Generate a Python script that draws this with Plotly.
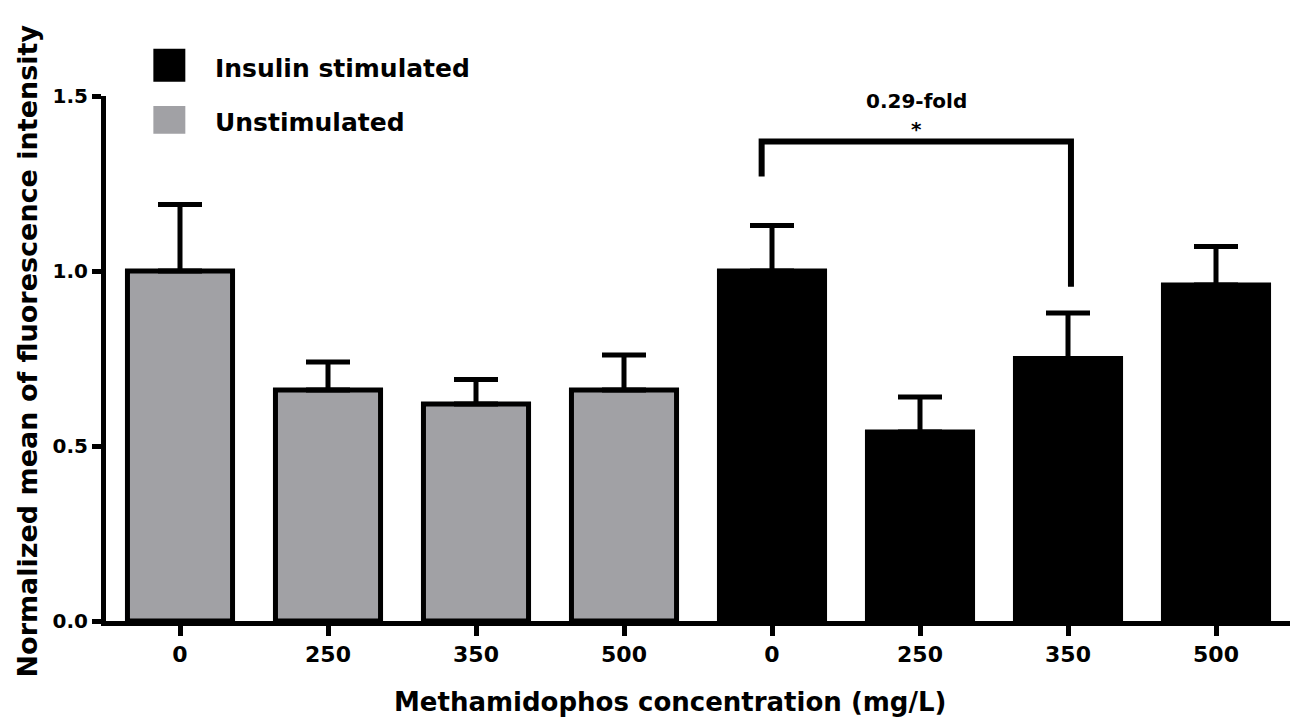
import plotly.graph_objects as go

# ---- data ----
tick_labels = ["0", "250", "350", "500", "0", "250", "350", "500"]
unstim_x = [0, 1, 2, 3]
unstim_mean = [1.00, 0.66, 0.62, 0.66]
unstim_err = [0.19, 0.08, 0.07, 0.10]
insulin_x = [4, 5, 6, 7]
insulin_mean = [1.00, 0.54, 0.75, 0.96]
insulin_err = [0.13, 0.10, 0.13, 0.11]
series_names = ["Insulin stimulated", "Unstimulated"]
bracket_x = [3.93, 6.02]
bracket_y = [1.27, 1.37, 0.955]
fold_text = "0.29-fold"

FONT = "DejaVu Sans"
GRAY = "#a1a1a5"

fig = go.Figure()
for xs, ys, es, col, name in [
    (unstim_x, unstim_mean, unstim_err, GRAY, series_names[1]),
    (insulin_x, insulin_mean, insulin_err, "#000000", series_names[0]),
]:
    fig.add_trace(go.Bar(
        x=xs, y=ys, name=name, width=0.71,
        marker=dict(color=col, line=dict(color="#000000", width=5)),
        error_y=dict(type="data", symmetric=False, array=es,
                     arrayminus=[0] * len(es), color="#000000",
                     thickness=5, width=22),
        showlegend=False,
    ))

# significance bracket
fig.add_shape(type="path", xref="x", yref="y",
              path=f"M {bracket_x[0]},{bracket_y[0]} L {bracket_x[0]},{bracket_y[1]} "
                   f"L {bracket_x[1]},{bracket_y[1]} L {bracket_x[1]},{bracket_y[2]}",
              line=dict(color="#000000", width=6))
mid = (bracket_x[0] + bracket_x[1]) / 2
fig.add_annotation(x=mid, y=1.485, xref="x", yref="y", text=f"<b>{fold_text}</b>",
                   showarrow=False, font=dict(family=FONT, size=20, color="#000"))
fig.add_annotation(x=mid, y=1.405, xref="x", yref="y", text="<b>*</b>",
                   showarrow=False, font=dict(family=FONT, size=20, color="#000"))

# legend (manual, large swatches)
legend_rows = [(series_names[0], "#000000", 1.027, 1.090, 1.053),
               (series_names[1], GRAY, 0.928, 0.981, 0.949)]
for name, col, y0, y1, yt in legend_rows:
    fig.add_shape(type="rect", xref="paper", yref="paper",
                  x0=0.040, x1=0.067, y0=y0, y1=y1,
                  fillcolor=col, line=dict(width=0))
    fig.add_annotation(xref="paper", yref="paper", x=0.090, y=yt,
                       xanchor="left", yanchor="middle", showarrow=False,
                       text=f"<b>{name}</b>",
                       font=dict(family=FONT, size=25, color="#000"))

# axis titles
fig.add_annotation(xref="paper", yref="paper", x=-0.066, y=0.515,
                   textangle=-90, showarrow=False, xanchor="center", yanchor="middle",
                   text="<b>Normalized mean of fluorescence intensity</b>",
                   font=dict(family=FONT, size=27, color="#000"))
fig.add_annotation(xref="paper", yref="paper", x=0.476, y=-0.154,
                   showarrow=False, xanchor="center", yanchor="middle",
                   text="<b>Methamidophos concentration (mg/L)</b>",
                   font=dict(family=FONT, size=26, color="#000"))

fig.update_layout(
    width=1291, height=728,
    margin=dict(l=106, r=1, t=96, b=107),
    paper_bgcolor="white", plot_bgcolor="white",
    bargap=0.29,
    xaxis=dict(range=[-0.5, 7.5], tickmode="array",
               tickvals=list(range(8)),
               ticktext=[f"<b>{t}</b>" for t in tick_labels],
               showline=True, linecolor="#000", linewidth=5,
               ticks="outside", ticklen=10, tickwidth=5, tickcolor="#000",
               showgrid=False, zeroline=False,
               tickfont=dict(family=FONT, size=22, color="#000")),
    yaxis=dict(range=[0, 1.5], tickvals=[0, 0.5, 1.0, 1.5],
               ticktext=["<b>0.0</b>", "<b>0.5</b>", "<b>1.0</b>", "<b>1.5</b>"],
               showline=True, linecolor="#000", linewidth=5,
               ticks="outside", ticklen=9, tickwidth=5, tickcolor="#000",
               showgrid=False, zeroline=False,
               tickfont=dict(family=FONT, size=20, color="#000")),
)

fig.write_html("out.html")
